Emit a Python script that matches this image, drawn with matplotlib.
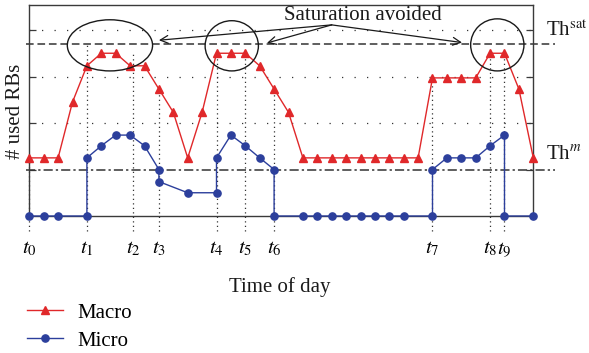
import matplotlib
matplotlib.use("Agg")
import matplotlib.pyplot as plt
from matplotlib.patches import Ellipse

# ---- data ----
macro_x = list(range(36))
macro_y = [1.25, 1.25, 1.25, 2.45, 3.23, 3.5, 3.5, 3.23, 3.23, 2.73, 2.23, 1.25,
           2.23, 3.5, 3.5, 3.5, 3.23, 2.73, 2.23,
           1.25, 1.25, 1.25, 1.25, 1.25, 1.25, 1.25, 1.25, 1.25,
           2.97, 2.97, 2.97, 2.97, 3.5, 3.5, 2.73, 1.25]
micro_x = [0, 1, 2, 4, 4, 5, 6, 7, 8, 9, 9, 11, 13, 13, 14, 15, 16, 17, 17,
           19, 20, 21, 22, 23, 24, 25, 26, 28, 28, 29, 30, 31, 32, 33, 33, 35]
micro_y = [0, 0, 0, 0, 1.25, 1.51, 1.74, 1.74, 1.51, 1.0, 0.74, 0.5, 0.5, 1.25,
           1.74, 1.51, 1.25, 1.0, 0,
           0, 0, 0, 0, 0, 0, 0, 0, 0, 1.0, 1.25, 1.25, 1.25, 1.51, 1.74, 0, 0]
t_pos = [0, 4, 7.2, 9, 13, 15, 17, 28, 32, 33]
t_labels = [r"$t_{%d}$" % i for i in range(10)]
t_tops = [1.25, 3.7, 3.5, 2.73, 3.5, 3.5, 2.73, 2.97, 3.5, 3.5]
th_sat = 3.7
th_m = 1.0
grid_levels = [2, 3, 4]
ellipses = [(5.6, 3.67, 5.92, 1.10), (14.06, 3.66, 3.70, 1.08), (32.5, 3.68, 3.70, 1.12)]
arrow_start = (21.0, 4.11)
arrow_targets = [(9.0, 3.78), (16.5, 3.72), (30.05, 3.73)]

plt.rcParams['font.family'] = ['Liberation Serif', 'DejaVu Serif']
plt.rcParams['mathtext.fontset'] = 'stix'

RED = '#e0282a'
BLUE = '#2c3f9c'
SPINE = '#3a3a3a'

W, H = 589, 353
fig = plt.figure(figsize=(W / 100, H / 100), dpi=100)
ax = fig.add_axes([29.3 / W, 1 - 216 / H, (533.3 - 29.3) / W, (216 - 5) / H])
ax.set_xlim(0, 35)
ax.set_ylim(0, (216 - 5) / 46.5)

for s in ax.spines.values():
    s.set_color(SPINE)
    s.set_linewidth(1.0)

# horizontal dotted grid
for g in grid_levels:
    ax.axhline(g, color='#333333', lw=0.9, ls=(0, (1, 9)), zorder=1)

# threshold lines extend beyond right spine
ax.plot([-0.2, 36.5], [th_sat, th_sat], color='#333333', lw=1.1,
        ls=(0, (5, 2.5)), clip_on=False, zorder=2)
ax.plot([-0.2, 36.5], [th_m, th_m], color='#333333', lw=1.1,
        ls=(0, (6, 2, 1.5, 2)), clip_on=False, zorder=2)

# vertical dotted time markers
for tp, tt in zip(t_pos, t_tops):
    ax.plot([tp, tp], [-0.32, tt], color='#333333', lw=0.9, ls=(0, (1, 2.6)),
            clip_on=False, zorder=1)

ax.plot(macro_x, macro_y, color=RED, lw=1.0, marker='^', ms=5.2,
        clip_on=False, zorder=4, label='Macro')
ax.plot(micro_x, micro_y, color=BLUE, lw=1.0, marker='o', ms=5.2,
        clip_on=False, zorder=5, label='Micro')

for cx, cy, w, h in ellipses:
    ax.add_patch(Ellipse((cx, cy), w, h, fill=False, ec='#1a1a1a', lw=1.0, zorder=6))

for tx, ty in arrow_targets:
    ax.annotate('', xy=(tx, ty), xytext=arrow_start,
                arrowprops=dict(arrowstyle='->', color='#1a1a1a', lw=0.9,
                                shrinkA=0, shrinkB=0, mutation_scale=14),
                zorder=7)
ax.text((363 - 29.3) / 14.4, (216 - 15) / 46.5, 'Saturation avoided',
        ha='center', va='center', fontsize=15, color='#1a1a1a', zorder=8)

ax.text(35.9, th_sat + 0.28, r'Th$^{\rm sat}$', ha='left', va='center',
        fontsize=15, color='#1a1a1a')
ax.text(35.9, th_m + 0.3, r'Th$^{m}$', ha='left', va='center',
        fontsize=15, color='#1a1a1a')

ax.set_yticks([1, 2, 3, 4])
ax.set_yticklabels([])
ax.tick_params(axis='y', direction='in', length=5, width=0.9, color=SPINE,
               left=True, right=True)
ax.set_xticks(t_pos)
ax.set_xticklabels(t_labels, fontsize=15)
ax.tick_params(axis='x', length=0, pad=17)

fig.text(16 / W, 1 - 111 / H, '# used RBs', rotation=90, ha='center', va='center',
         fontsize=15, color='#1a1a1a')
fig.text(280 / W, 1 - 287 / H, 'Time of day', ha='center', va='center',
         fontsize=15, color='#1a1a1a')

fig.legend(loc='upper left', bbox_to_anchor=(27 / W, 1 - 303 / H), frameon=False,
           fontsize=15, handlelength=1.75, handletextpad=0.65, labelspacing=0.4,
           borderpad=0, borderaxespad=0)

fig.savefig('out.png', dpi=100)
